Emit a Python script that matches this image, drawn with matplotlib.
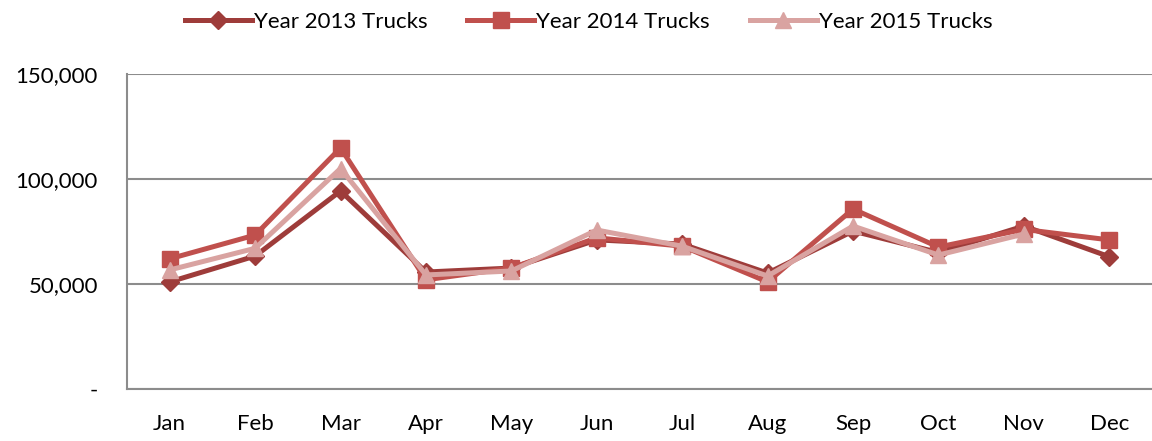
import matplotlib.pyplot as plt
from matplotlib.ticker import FuncFormatter

plt.rcParams["font.family"] = ["Lato", "DejaVu Sans"]

months = ["Jan", "Feb", "Mar", "Apr", "May", "Jun",
          "Jul", "Aug", "Sep", "Oct", "Nov", "Dec"]
trucks_2013 = [51000, 63300, 94300, 55700, 57600, 71000,
               69000, 55200, 75200, 65000, 77600, 63000]
trucks_2014 = [62000, 73300, 114800, 52000, 57600, 72000,
               68000, 51000, 85700, 67600, 76000, 71000]
trucks_2015 = [56700, 67000, 105000, 54300, 56200, 75700,
               68000, 53800, 77600, 63800, 73800]

C13, C14, C15 = "#9E3C3A", "#C0504D", "#D9A3A1"
FS = 16

fig = plt.figure(figsize=(11.52, 4.41), dpi=100)
ax = fig.add_axes([127 / 1152, 1 - 389 / 441, 1025 / 1152, 315 / 441])

x = list(range(len(months)))
ax.plot(x, trucks_2013, color=C13, lw=3.6, marker="D", ms=9, label="Year 2013 Trucks", zorder=3)
ax.plot(x, trucks_2014, color=C14, lw=3.6, marker="s", ms=11, label="Year 2014 Trucks", zorder=4)
ax.plot(x[:len(trucks_2015)], trucks_2015, color=C15, lw=3.6, marker="^", ms=12,
        label="Year 2015 Trucks", zorder=5)

ax.set_xlim(-0.5, 11.5)
ax.set_ylim(0, 150000)
ax.set_yticks([0, 50000, 100000, 150000])
ax.yaxis.set_major_formatter(FuncFormatter(lambda v, p: "-" if v == 0 else f"{v:,.0f}"))
ax.set_xticks(x)
ax.set_xticklabels(months)
ax.tick_params(axis="both", length=0, labelsize=FS, colors="black")
ax.tick_params(axis="y", pad=21)
ax.tick_params(axis="x", pad=18)

ax.grid(axis="y", color="#8C8C8C", lw=1.5)
ax.set_axisbelow(True)
for s in ("top", "right"):
    ax.spines[s].set_visible(False)
for s in ("left", "bottom"):
    ax.spines[s].set_color("#8C8C8C")
    ax.spines[s].set_linewidth(1.5)

fig.legend(loc="upper center", bbox_to_anchor=(0.511, 1.0), ncol=3, frameon=False,
           fontsize=FS, handlelength=3.0, handletextpad=0.1, columnspacing=1.8,
           borderaxespad=0.15)

fig.savefig("out.png", dpi=100, facecolor="white")
